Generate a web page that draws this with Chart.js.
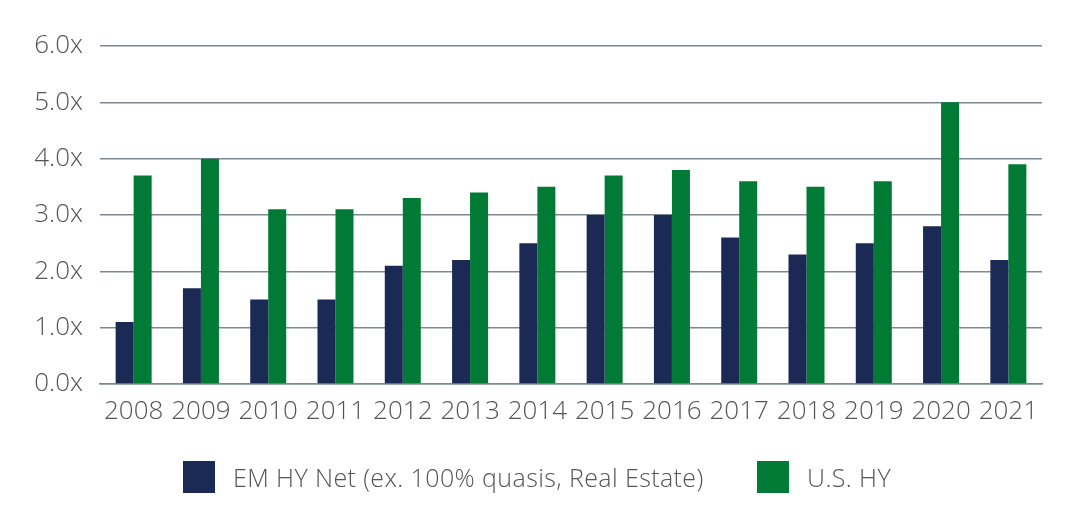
<!DOCTYPE html>
<html><head><meta charset="utf-8">
<script src="https://cdn.jsdelivr.net/npm/chart.js@4"></script>
<style>
html,body{margin:0;padding:0;background:#fff;}
#wrap{position:relative;width:1076px;height:524px;}
#legend{position:absolute;top:461px;left:0;width:1076px;height:32px;font-family:"Open Sans";font-weight:300;font-size:25px;letter-spacing:0.4px;color:#555;}
.item{position:absolute;top:0;display:flex;align-items:center;height:32px;white-space:nowrap;}
.sw{width:32px;height:32px;margin-right:18px;}
</style>
</head><body>
<div id="wrap"><canvas id="c" width="1076" height="524"></canvas>
<div id="legend"></div></div>
<script>
const categories = ['2008','2009','2010','2011','2012','2013','2014','2015','2016','2017','2018','2019','2020','2021'];
const emHyNet = [1.1,1.7,1.5,1.5,2.1,2.2,2.5,3.0,3.0,2.6,2.3,2.5,2.8,2.2];
const usHy = [3.7,4.0,3.1,3.1,3.3,3.4,3.5,3.7,3.8,3.6,3.5,3.6,5.0,3.9];
const seriesNames = ['EM HY Net (ex. 100% quasis, Real Estate)','U.S. HY'];
const seriesColors = ['#1b2a55','#007a35'];
const yTicks = [0,1,2,3,4,5,6];

const gridColor = '#7d8893';
const textColor = '#555555';
const font = {family:'"Open Sans"', size:26, weight:'300'};

new Chart(document.getElementById('c'), {
  type:'bar',
  data:{
    labels:categories,
    datasets:[
      {label:seriesNames[0], data:emHyNet, backgroundColor:seriesColors[0], barPercentage:1, categoryPercentage:0.535},
      {label:seriesNames[1], data:usHy, backgroundColor:seriesColors[1], barPercentage:1, categoryPercentage:0.535}
    ]
  },
  options:{
    responsive:false, animation:false,
    layout:{padding:{top:46,right:34,bottom:73,left:0}},
    plugins:{legend:{display:false}, tooltip:{enabled:false}},
    scales:{
      x:{
        grid:{display:false, drawTicks:false},
        border:{display:true, color:gridColor, width:1.5},
        ticks:{font:font, color:textColor, padding:12, maxRotation:0, autoSkip:false},
        afterFit:(s)=>{s.height=67;}
      },
      y:{
        min:0, max:6,
        afterBuildTicks:(s)=>{s.ticks = yTicks.map(v=>({value:v}));},
        grid:{color:gridColor, lineWidth:1.5, drawTicks:false},
        border:{display:false},
        ticks:{font:font, color:textColor, padding:17, callback:(v)=>Number(v).toFixed(1)+'x'},
        afterFit:(s)=>{s.width=100;}
      }
    }
  }
});

const lg = document.getElementById('legend');
const lefts = [183, 757];
seriesNames.forEach((n,i)=>{
  const d = document.createElement('div');
  d.className='item'; d.style.left = lefts[i]+'px';
  const sw = document.createElement('span'); sw.className='sw'; sw.style.background=seriesColors[i];
  const t = document.createElement('span'); t.textContent = n;
  d.appendChild(sw); d.appendChild(t); lg.appendChild(d);
});
</script>
</body></html>
